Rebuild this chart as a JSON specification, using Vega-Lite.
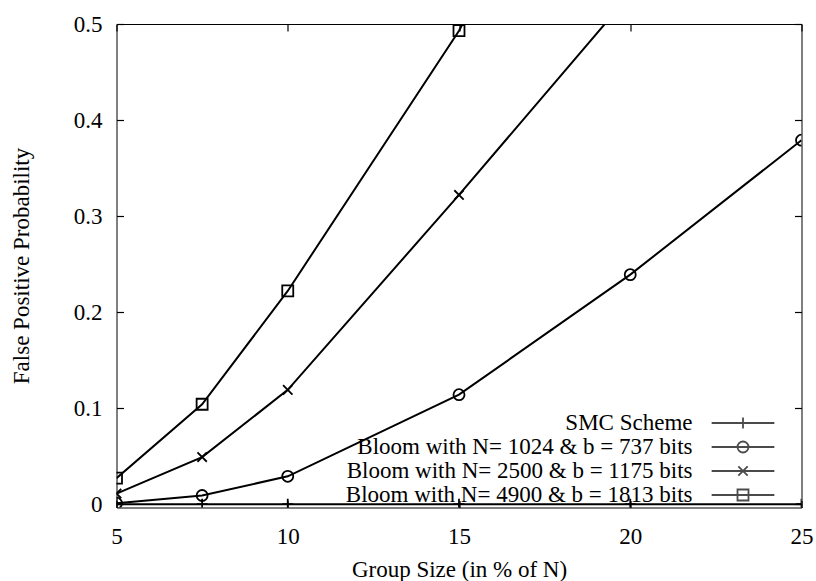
{
  "$schema": "https://vega.github.io/schema/vega-lite/v6.json",
  "width": 685,
  "height": 483.5,
  "autosize": {"type": "none"},
  "padding": {"left": 116.5, "top": 24, "right": 14.5, "bottom": 73.5},
  "background": "white",
  "data": {
    "values": [
      {"size": 5, "fpp": 0, "scheme": "SMC Scheme"},
      {"size": 7.5, "fpp": 0, "scheme": "SMC Scheme"},
      {"size": 10, "fpp": 0, "scheme": "SMC Scheme"},
      {"size": 15, "fpp": 0, "scheme": "SMC Scheme"},
      {"size": 20, "fpp": 0, "scheme": "SMC Scheme"},
      {"size": 25, "fpp": 0, "scheme": "SMC Scheme"},
      {"size": 5, "fpp": 0.001, "scheme": "Bloom with N= 1024 & b = 737 bits"},
      {"size": 7.5, "fpp": 0.009, "scheme": "Bloom with N= 1024 & b = 737 bits"},
      {"size": 10, "fpp": 0.029, "scheme": "Bloom with N= 1024 & b = 737 bits"},
      {"size": 15, "fpp": 0.114, "scheme": "Bloom with N= 1024 & b = 737 bits"},
      {"size": 20, "fpp": 0.239, "scheme": "Bloom with N= 1024 & b = 737 bits"},
      {"size": 25, "fpp": 0.379, "scheme": "Bloom with N= 1024 & b = 737 bits"},
      {"size": 5, "fpp": 0.011, "scheme": "Bloom with N= 2500 & b = 1175 bits"},
      {"size": 7.5, "fpp": 0.049, "scheme": "Bloom with N= 2500 & b = 1175 bits"},
      {"size": 10, "fpp": 0.119, "scheme": "Bloom with N= 2500 & b = 1175 bits"},
      {"size": 15, "fpp": 0.322, "scheme": "Bloom with N= 2500 & b = 1175 bits"},
      {"size": 20, "fpp": 0.531, "scheme": "Bloom with N= 2500 & b = 1175 bits"},
      {"size": 5, "fpp": 0.027, "scheme": "Bloom with N= 4900 & b = 1813 bits"},
      {"size": 7.5, "fpp": 0.104, "scheme": "Bloom with N= 4900 & b = 1813 bits"},
      {"size": 10, "fpp": 0.222, "scheme": "Bloom with N= 4900 & b = 1813 bits"},
      {"size": 15, "fpp": 0.493, "scheme": "Bloom with N= 4900 & b = 1813 bits"},
      {"size": 20, "fpp": 0.83, "scheme": "Bloom with N= 4900 & b = 1813 bits"}
    ]
  },
  "config": {
    "font": "Liberation Serif",
    "view": {"stroke": "black", "strokeWidth": 1},
    "axis": {
      "grid": false,
      "domain": false,
      "ticks": true,
      "tickSize": 7,
      "offset": -7,
      "zindex": 1,
      "tickColor": "black",
      "tickWidth": 1.2,
      "labelFont": "Liberation Serif",
      "labelFontSize": 23,
      "labelColor": "black",
      "titleFont": "Liberation Serif",
      "titleFontSize": 23,
      "titleFontWeight": "normal",
      "titleColor": "black"
    }
  },
  "layer": [
    {
      "mark": {"type": "line", "color": "black", "strokeWidth": 2, "clip": true},
      "encoding": {
        "x": {
          "field": "size",
          "type": "quantitative",
          "scale": {"domain": [5, 25], "nice": false, "zero": false},
          "axis": {
            "orient": "bottom",
            "values": [5, 10, 15, 20, 25],
            "title": "Group Size (in % of N)",
            "labelPadding": 35.5,
            "labelBaseline": "alphabetic",
            "labelFlush": false,
            "titleY": 75.5,
            "titleBaseline": "alphabetic"
          }
        },
        "y": {
          "field": "fpp",
          "type": "quantitative",
          "scale": {"domain": [-0.0035, 0.5], "nice": false, "zero": false},
          "axis": {
            "orient": "left",
            "values": [0, 0.1, 0.2, 0.3, 0.4, 0.5],
            "format": ".1~f",
            "title": "False Positive Probability",
            "labelPadding": 14.5,
            "labelFlush": false,
            "titleX": -95.5,
            "titleY": 241.5,
            "titleAngle": -90,
            "titleAlign": "center",
            "titleBaseline": "alphabetic"
          }
        },
        "detail": {"field": "scheme", "type": "nominal"}
      }
    },
    {
      "transform": [{"filter": "datum.scheme === 'SMC Scheme'"}],
      "mark": {"type": "point", "shape": "M-1,0H1M0,-1V1", "filled": false, "stroke": "black", "strokeWidth": 1.8, "size": 121, "opacity": 1, "clip": true},
      "encoding": {
        "x": {
          "field": "size",
          "type": "quantitative",
          "axis": {"orient": "top", "values": [5, 10, 15, 20, 25], "labels": false, "title": null}
        },
        "y": {
          "field": "fpp",
          "type": "quantitative",
          "axis": {"orient": "right", "values": [0, 0.1, 0.2, 0.3, 0.4, 0.5], "labels": false, "title": null}
        }
      }
    },
    {
      "transform": [{"filter": "datum.scheme === 'Bloom with N= 1024 & b = 737 bits'"}],
      "mark": {"type": "point", "shape": "circle", "filled": false, "stroke": "black", "strokeWidth": 1.8, "size": 121, "opacity": 1, "clip": true},
      "encoding": {
        "x": {"field": "size", "type": "quantitative", "axis": null},
        "y": {"field": "fpp", "type": "quantitative", "axis": null}
      }
    },
    {
      "transform": [{"filter": "datum.scheme === 'Bloom with N= 2500 & b = 1175 bits'"}],
      "mark": {"type": "point", "shape": "M-0.85,-0.85L0.85,0.85M-0.85,0.85L0.85,-0.85", "filled": false, "stroke": "black", "strokeWidth": 1.8, "size": 121, "opacity": 1, "clip": true},
      "encoding": {
        "x": {"field": "size", "type": "quantitative", "axis": null},
        "y": {"field": "fpp", "type": "quantitative", "axis": null}
      }
    },
    {
      "transform": [{"filter": "datum.scheme === 'Bloom with N= 4900 & b = 1813 bits'"}],
      "mark": {"type": "point", "shape": "square", "filled": false, "stroke": "black", "strokeWidth": 1.8, "size": 121, "opacity": 1, "clip": true},
      "encoding": {
        "x": {"field": "size", "type": "quantitative", "axis": null},
        "y": {"field": "fpp", "type": "quantitative", "axis": null}
      }
    },
    {
      "transform": [{"filter": "false"}],
      "mark": {"type": "point", "filled": false, "stroke": "black", "strokeWidth": 1.8, "size": 121},
      "encoding": {
        "shape": {
          "field": "scheme",
          "type": "nominal",
          "scale": {
            "domain": [
              "SMC Scheme",
              "Bloom with N= 1024 & b = 737 bits",
              "Bloom with N= 2500 & b = 1175 bits",
              "Bloom with N= 4900 & b = 1813 bits"
            ],
            "range": [
              "M-5.7,0H5.7M0,-1V1",
              "M-5.7,0H5.7M1,0A1,1,0,1,1,-1,0A1,1,0,1,1,1,0",
              "M-5.7,0H5.7M-0.85,-0.85L0.85,0.85M-0.85,0.85L0.85,-0.85",
              "M-5.7,0H5.7M-1,-1H1V1H-1Z"
            ]
          },
          "legend": {
            "title": null,
            "orient": "none",
            "legendX": 615,
            "legendY": 387.5,
            "padding": 0,
            "rowPadding": -1,
            "labelAlign": "right",
            "labelOffset": -62,
            "labelLimit": 1000,
            "labelFont": "Liberation Serif",
            "labelFontSize": 23,
            "labelColor": "black",
            "symbolSize": 121,
            "symbolStrokeWidth": 1.8,
            "symbolStrokeColor": "black",
            "symbolFillColor": "transparent"
          }
        }
      }
    }
  ]
}
